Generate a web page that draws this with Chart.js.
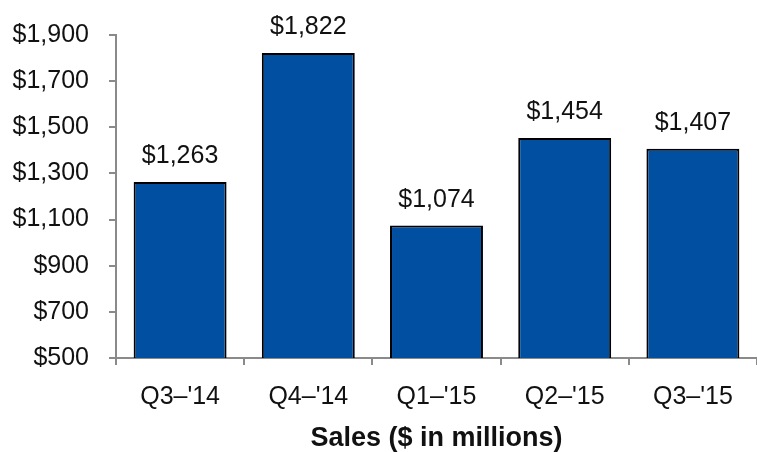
<!DOCTYPE html>
<html>
<head>
<meta charset="utf-8">
<script src="https://cdn.jsdelivr.net/npm/chart.js@4/dist/chart.umd.min.js"></script>
<style>
  html, body { margin: 0; padding: 0; background: #fff; }
  #wrap { width: 757px; height: 452px; position: relative; }
</style>
</head>
<body>
<div id="wrap"><canvas id="c" width="757" height="452"></canvas></div>
<script>
const quarters = ["Q3\u2013'14", "Q4\u2013'14", "Q1\u2013'15", "Q2\u2013'15", "Q3\u2013'15"];
const sales = [1263, 1822, 1074, 1454, 1407];
const yMin = 500;
const yMax = 1900;
const yStep = 200;
const axisTitle = "Sales ($ in millions)";

const FONT = "'Liberation Sans', Arial, sans-serif";
const AXIS_GREY = "#8a8a8a";
const TEXT = "#111";

function money(v) {
  return "$" + v.toLocaleString("en-US");
}

// Writes each bar's value just above its top edge
const valueLabels = {
  id: "valueLabels",
  afterDatasetsDraw(chart) {
    const ctx = chart.ctx;
    const meta = chart.getDatasetMeta(0);
    ctx.save();
    ctx.font = "25px " + FONT;
    ctx.fillStyle = TEXT;
    ctx.textAlign = "center";
    ctx.textBaseline = "alphabetic";
    meta.data.forEach((bar, i) => {
      ctx.fillText(money(chart.data.datasets[0].data[i]), bar.x, bar.y - 19);
    });
    ctx.restore();
  }
};

new Chart(document.getElementById("c"), {
  type: "bar",
  data: {
    labels: quarters,
    datasets: [{
      data: sales,
      backgroundColor: "#004fa0",
      borderColor: "#000",
      borderWidth: 2,
      borderSkipped: "bottom",
      categoryPercentage: 1,
      barPercentage: 0.725
    }]
  },
  options: {
    responsive: false,
    animation: false,
    events: [],
    layout: { padding: { top: 34, right: 0, left: 0, bottom: 0 } },
    plugins: {
      legend: { display: false },
      tooltip: { enabled: false }
    },
    scales: {
      x: {
        grid: {
          display: true,
          drawOnChartArea: false,
          drawTicks: true,
          tickLength: 7,
          color: AXIS_GREY,
          lineWidth: 2,
          offset: true
        },
        border: { display: true, color: AXIS_GREY, width: 2 },
        ticks: {
          color: TEXT,
          font: { family: FONT, size: 25 },
          padding: 17,
          maxRotation: 0
        },
        title: {
          display: true,
          text: axisTitle,
          color: TEXT,
          font: { family: FONT, size: 27, weight: "bold", lineHeight: 1.0 },
          padding: { top: 10, bottom: 0 }
        },
        afterFit(scale) { scale.height = 94; }
      },
      y: {
        min: yMin,
        max: yMax,
        grid: {
          display: true,
          drawOnChartArea: false,
          drawTicks: true,
          tickLength: 7,
          color: AXIS_GREY,
          lineWidth: 2
        },
        border: { display: true, color: AXIS_GREY, width: 2 },
        ticks: {
          stepSize: yStep,
          color: TEXT,
          font: { family: FONT, size: 25 },
          padding: 20,
          callback: (v) => money(v)
        },
        afterFit(scale) { scale.width = 116; }
      }
    }
  },
  plugins: [valueLabels]
});
</script>
</body>
</html>
